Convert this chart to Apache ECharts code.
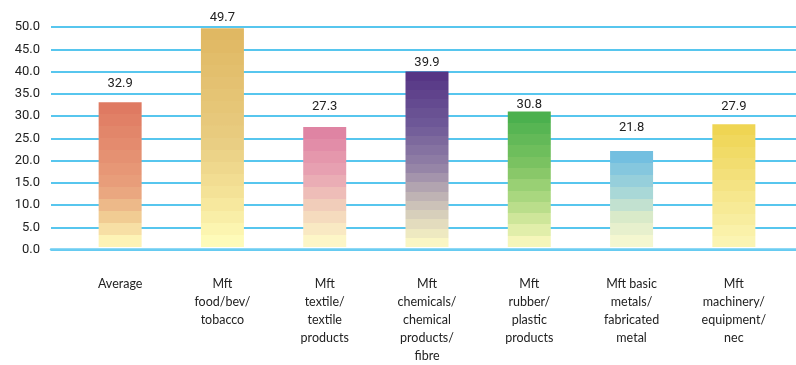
<!DOCTYPE html>
<html>
<head>
<meta charset="utf-8">
<script src="https://cdn.jsdelivr.net/npm/echarts@6/dist/echarts.min.js"></script>
<style>
  html, body { margin: 0; padding: 0; background: #fff; }
  #chart { width: 796px; height: 365px; }
</style>
</head>
<body>
<div id="chart"></div>
<script>
// data
const categories = [
  "Average",
  "Mft\nfood/bev/\ntobacco",
  "Mft\ntextile/\ntextile\nproducts",
  "Mft\nchemicals/\nchemical\nproducts/\nfibre",
  "Mft\nrubber/\nplastic\nproducts",
  "Mft basic\nmetals/\nfabricated\nmetal",
  "Mft\nmachinery/\nequipment/\nnec"
];
const values = [32.9, 49.7, 27.3, 39.9, 30.8, 21.8, 27.9];
const yTicks = { min: 0, max: 50, interval: 5 };

// styling: colour ramps per bar (top -> bottom), number of bands, label gap above bar
const ramps = [
  [["#df7a62", 0], ["#e9a07c", 0.6], ["#f0c890", 0.8], ["#fdf3b6", 1]],
  [["#e0b863", 0], ["#e8cc80", 0.5], ["#f6e59a", 0.8], ["#fefbb9", 1]],
  [["#df84a3", 0], ["#e9a6b4", 0.4], ["#f2d2bb", 0.7], ["#fdf6c7", 1]],
  [["#573685", 0], ["#6f5a98", 0.3], ["#9583a7", 0.55], ["#c6bbb6", 0.75], ["#faf6c4", 1]],
  [["#4bb04e", 0], ["#7fc463", 0.4], ["#b4dc86", 0.7], ["#f5f6ba", 1]],
  [["#73bfe0", 0], ["#a4d6d9", 0.4], ["#d8e9c9", 0.7], ["#f4f7d0", 1]],
  [["#efd553", 0], ["#f3e07a", 0.4], ["#fbf4b2", 1]]
];
const bands = [12, 18, 10, 19, 12, 8, 11];
const labelGap = [12, 4, 14, 2, 0, 17, 11];

function hex(c) {
  return [1, 3, 5].map(i => parseInt(c.slice(i, i + 2), 16));
}
function colorAt(ramp, t) {
  for (let i = 0; i < ramp.length - 1; i++) {
    const [c0, p0] = ramp[i], [c1, p1] = ramp[i + 1];
    if (t <= p1) {
      const k = (t - p0) / (p1 - p0);
      const a = hex(c0), b = hex(c1);
      return "rgb(" + a.map((v, j) => Math.round(v + (b[j] - v) * k)).join(",") + ")";
    }
  }
  return ramp[ramp.length - 1][0];
}
function stepped(ramp, n) {
  const stops = [];
  for (let i = 0; i < n; i++) {
    const c = colorAt(ramp, i / (n - 1));
    stops.push({ offset: i / n, color: c });
    stops.push({ offset: (i + 1) / n - 0.0001, color: c });
  }
  return new echarts.graphic.LinearGradient(0, 0, 0, 1, stops);
}

const chart = echarts.init(document.getElementById("chart"));
chart.setOption({
  animation: false,
  grid: [
    { left: 51, right: 0, top: 27, bottom: 115.5 },
    { left: 69, right: 11, top: 27, bottom: 115.5 }
  ],
  xAxis: [
    {
      gridIndex: 0, type: "category", data: categories,
      axisLine: { show: true, lineStyle: { color: "#6ccdf2", width: 2.5 } },
      axisTick: { show: false }, axisLabel: { show: false }, splitLine: { show: false }
    },
    {
      gridIndex: 1, type: "category", data: categories,
      axisLine: { show: false }, axisTick: { show: false },
      axisLabel: {
        margin: 28, color: "#222", fontSize: 12.5, lineHeight: 18,
        fontFamily: "Lato, sans-serif", align: "center", interval: 0
      }
    }
  ],
  yAxis: [
    {
      gridIndex: 0, type: "value", min: yTicks.min, max: yTicks.max, interval: yTicks.interval,
      axisLine: { show: false }, axisTick: { show: false },
      axisLabel: {
        margin: 11, color: "#222", fontSize: 13, fontFamily: "Roboto, sans-serif",
        formatter: v => v.toFixed(1)
      },
      splitLine: { lineStyle: { color: "#1fb3e8", width: 1.5 } }
    },
    {
      gridIndex: 1, type: "value", min: yTicks.min, max: yTicks.max, interval: yTicks.interval,
      show: false, splitLine: { show: false }
    }
  ],
  series: [
    {
      type: "bar",
      xAxisIndex: 1, yAxisIndex: 1,
      barWidth: 43,
      data: values.map((v, i) => ({
        value: v,
        itemStyle: { color: stepped(ramps[i], bands[i]) },
        label: { distance: labelGap[i] }
      })),
      label: {
        show: true, position: "top",
        color: "#222", fontSize: 13, fontFamily: "Roboto, sans-serif",
        formatter: p => p.value.toFixed(1)
      }
    }
  ]
});
</script>
</body>
</html>
